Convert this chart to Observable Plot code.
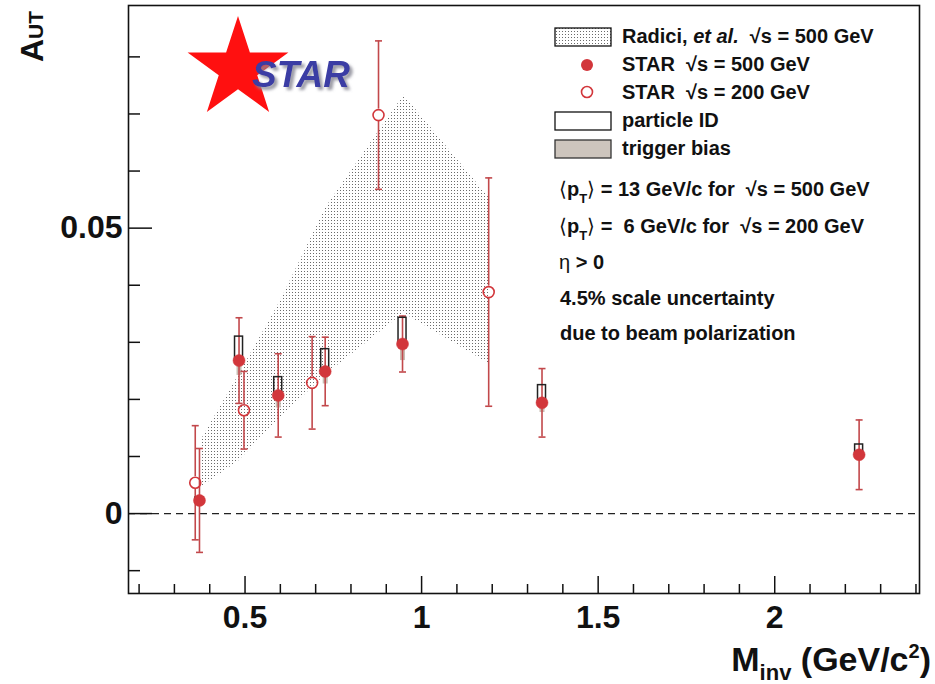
<!DOCTYPE html>
<html>
<head>
<meta charset="utf-8">
<script src="https://cdn.jsdelivr.net/npm/d3@7"></script>
<script src="https://cdn.jsdelivr.net/npm/@observablehq/plot@0.6"></script>
<style>
  body { margin: 0; background: #fff; }
  #chart { width: 935px; height: 684px; }
</style>
</head>
<body>
<div id="chart"></div>
<script>
// Radici et al. theory band, sqrt(s) = 500 GeV
const theoryM  = [0.375, 0.48, 0.60, 0.73, 0.95, 1.19];
const theoryLo = [0.0046, 0.0091, 0.0167, 0.0244, 0.0351, 0.0263];
const theoryHi = [0.0128, 0.0240, 0.0372, 0.0537, 0.0733, 0.0554];

// STAR sqrt(s) = 500 GeV: A_UT, statistical error, particle-ID and trigger-bias systematics
const m500    = [0.371, 0.483, 0.594, 0.727, 0.946, 1.341, 2.239];
const a500    = [0.0023, 0.0268, 0.0207, 0.0249, 0.0297, 0.0194, 0.0103];
const err500  = [0.0091, 0.0075, 0.0073, 0.0060, 0.0049, 0.0060, 0.0061];
const pid500  = [0.0005, 0.0042, 0.0032, 0.0039, 0.0046, 0.0031, 0.0018];
const trig500 = [0.0003, 0.0026, 0.0022, 0.0022, 0.0029, 0.0017, 0.0006];

// STAR sqrt(s) = 200 GeV
const m200   = [0.359, 0.497, 0.690, 0.878, 1.190];
const a200   = [0.0054, 0.0181, 0.0229, 0.0698, 0.0388];
const err200 = [0.0100, 0.0068, 0.0081, 0.0130, 0.0200];

// axis ticks
const xMajor = [0.5, 1, 1.5, 2];
const xMinor = [0.2, 0.3, 0.4, 0.6, 0.7, 0.8, 0.9, 1.1, 1.2, 1.3, 1.4, 1.6, 1.7, 1.8, 1.9, 2.1, 2.2, 2.3, 2.4];
const yMajor = [0, 0.05];
const yMinor = [-0.01, 0.01, 0.02, 0.03, 0.04, 0.06, 0.07, 0.08];

const theory = theoryM.map((m, i) => ({m, lo: theoryLo[i], hi: theoryHi[i]}));
const s500 = m500.map((m, i) => ({m, a: a500[i], e: err500[i], pid: pid500[i], trig: trig500[i]}));
const s200 = m200.map((m, i) => ({m, a: a200[i], e: err200[i]}));
const caps500 = s500.flatMap(d => [{m: d.m, y: d.a + d.e}, {m: d.m, y: d.a - d.e}]);
const caps200 = s200.flatMap(d => [{m: d.m, y: d.a + d.e}, {m: d.m, y: d.a - d.e}]);

const W = 935, H = 684, mL = 128, mR = 16, mT = 5, mB = 91;
const fw = W - mL - mR, fh = H - mT - mB;
const FONT = "'Liberation Sans', Arial, Helvetica, sans-serif";
const red = "#d2363b", barRed = "#c2484b", trigGrey = "#c8bdb3";

// short horizontal cap at the end of an error bar
const capSymbol = {draw(ctx, size) { const r = Math.sqrt(size / Math.PI); ctx.moveTo(-r, 0); ctx.lineTo(r, 0); }};

const errorBars = (data, gap) => [
  Plot.ruleX(data, {x: "m", y1: d => d.a + d.e, y2: "a", insetBottom: gap, stroke: barRed, strokeWidth: 1.6}),
  Plot.ruleX(data, {x: "m", y1: "a", y2: d => d.a - d.e, insetTop: gap, stroke: barRed, strokeWidth: 1.6})
];

const plot = Plot.plot({
  width: W, height: H,
  marginLeft: mL, marginRight: mR, marginTop: mT, marginBottom: mB,
  x: {domain: [0.17, 2.41]},
  y: {domain: [-0.014, 0.089]},
  style: {fontFamily: FONT, fontWeight: "bold", background: "white", color: "#111"},
  marks: [
    Plot.areaY(theory, {x: "m", y1: "lo", y2: "hi", fill: "url(#stipple)"}),
    Plot.ruleY([0], {stroke: "#222", strokeWidth: 1.3, strokeDasharray: "7,5"}),
    // trigger bias (below the point)
    Plot.ruleX(s500, {x: "m", y1: "a", y2: d => d.a - d.trig, stroke: trigGrey, strokeWidth: 5}),
    ...errorBars(s500, 0),
    ...errorBars(s200, 6),
    Plot.dot(caps500, {x: "m", y: "y", symbol: capSymbol, r: 3.5, fill: "none", stroke: barRed, strokeWidth: 1.6}),
    Plot.dot(caps200, {x: "m", y: "y", symbol: capSymbol, r: 3.5, fill: "none", stroke: barRed, strokeWidth: 1.6}),
    // particle-ID systematic (above the point)
    Plot.rect(s500, {x1: "m", x2: "m", y1: "a", y2: d => d.a + d.pid, insetLeft: -4, insetRight: -4,
                     fill: "none", stroke: "#222", strokeWidth: 1.5}),
    Plot.dot(s500, {x: "m", y: "a", r: 6, fill: red, stroke: red, strokeWidth: 0.5}),
    Plot.dot(s200, {x: "m", y: "a", r: 5.5, fill: "none", stroke: red, strokeWidth: 1.6}),
    Plot.frame({stroke: "#111", strokeWidth: 1.6}),
    Plot.tickY(yMajor, {y: d => d, insetRight: fw - 24, stroke: "#111", strokeWidth: 1.5}),
    Plot.tickY(yMinor, {y: d => d, insetRight: fw - 12, stroke: "#111", strokeWidth: 1.5}),
    Plot.tickX(xMajor, {x: d => d, insetTop: fh - 17, stroke: "#111", strokeWidth: 1.5}),
    Plot.tickX(xMinor, {x: d => d, insetTop: fh - 9, stroke: "#111", strokeWidth: 1.5}),
    Plot.axisY(yMajor, {tickSize: 0, tickPadding: 6, fontSize: 32, fontWeight: "bold", label: null,
                        tickFormat: d => d === 0 ? "0" : "0.05"}),
    Plot.axisX(xMajor, {tickSize: 0, tickPadding: 12, fontSize: 32, fontWeight: "bold", label: null,
                        tickFormat: d => String(d)})
  ]
});

document.getElementById("chart").appendChild(plot);

const svg = d3.select(plot);

const defs = svg.insert("defs", ":first-child");
// stipple fill shared by the band and its legend swatch
const pat = defs.append("pattern")
  .attr("id", "stipple").attr("patternUnits", "userSpaceOnUse")
  .attr("width", 3).attr("height", 3);
pat.append("rect").attr("x", 1).attr("y", 1).attr("width", 1).attr("height", 1).attr("fill", "#6a6a6a");
// soft shadow under the logo lettering
const shadow = defs.append("filter").attr("id", "logoShadow").attr("x", "-10%").attr("y", "-20%")
  .attr("width", "130%").attr("height", "150%");
shadow.append("feDropShadow").attr("dx", 3).attr("dy", 3).attr("stdDeviation", 1.5)
  .attr("flood-color", "#8a8a96").attr("flood-opacity", 0.85);

const txt = svg.append("g").attr("font-family", FONT).attr("font-weight", "bold")
  .attr("fill", "#111").attr("text-anchor", "start");

// axis titles
const yt = txt.append("text").attr("transform", "translate(43,62) rotate(-90)").attr("font-size", 32);
yt.append("tspan").text("A");
yt.append("tspan").attr("font-size", 21).text("UT");

const xt = txt.append("text").attr("x", 931).attr("y", 671).attr("text-anchor", "end").attr("font-size", 34);
xt.append("tspan").text("M");
xt.append("tspan").attr("font-size", 22).attr("dy", 9).text("inv");
xt.append("tspan").attr("dy", -9).text(" (GeV/c");
xt.append("tspan").attr("font-size", 20).attr("dy", -13).text("2");
xt.append("tspan").attr("dy", 13).text(")");

// legend
const lg = txt.append("g").attr("font-size", 20);
lg.append("rect").attr("x", 555).attr("y", 28).attr("width", 56).attr("height", 18)
  .attr("fill", "url(#stipple)").attr("stroke", "#111").attr("stroke-width", 1.3);
const l1 = lg.append("text").attr("x", 622).attr("y", 43).attr("xml:space", "preserve");
l1.append("tspan").text("Radici, ");
l1.append("tspan").attr("font-style", "italic").text("et al.");
l1.append("tspan").text("  \u221As = 500 GeV");
lg.append("circle").attr("cx", 587).attr("cy", 65).attr("r", 6).attr("fill", red);
lg.append("text").attr("x", 622).attr("y", 71).attr("xml:space", "preserve").text("STAR  \u221As = 500 GeV");
lg.append("circle").attr("cx", 587).attr("cy", 92).attr("r", 5.5).attr("fill", "none").attr("stroke", red).attr("stroke-width", 1.6);
lg.append("text").attr("x", 622).attr("y", 99).attr("xml:space", "preserve").text("STAR  \u221As = 200 GeV");
lg.append("rect").attr("x", 555).attr("y", 112).attr("width", 56).attr("height", 18)
  .attr("fill", "white").attr("stroke", "#111").attr("stroke-width", 1.3);
lg.append("text").attr("x", 622).attr("y", 127).text("particle ID");
lg.append("rect").attr("x", 555).attr("y", 140).attr("width", 56).attr("height", 18)
  .attr("fill", "#cdc5bd").attr("stroke", "#333").attr("stroke-width", 1.3);
lg.append("text").attr("x", 622).attr("y", 155).text("trigger bias");

// kinematic notes
const notes = txt.append("g").attr("font-size", 20);
[["13", 196, "500"], [" 6", 233, "200"]].forEach(([pt, y, rs]) => {
  const t = notes.append("text").attr("x", 559).attr("y", y).attr("xml:space", "preserve");
  t.append("tspan").attr("font-weight", "normal").text("\u27E8");
  t.append("tspan").text("p");
  t.append("tspan").attr("font-size", 13).attr("dy", 7).text("T");
  t.append("tspan").attr("dy", -7).attr("font-weight", "normal").text("\u27E9");
  t.append("tspan").text(` = ${pt} GeV/c for  \u221As = ${rs} GeV`);
});
const eta = notes.append("text").attr("x", 559).attr("y", 269);
eta.append("tspan").attr("font-weight", "normal").text("\u03B7");
eta.append("tspan").text(" > 0");
notes.append("text").attr("x", 560).attr("y", 305).text("4.5% scale uncertainty");
notes.append("text").attr("x", 560).attr("y", 340).text("due to beam polarization");

// STAR logo
const cx = 238, cy = 69, R = 53, r = R * 0.382;
const starPts = d3.range(10).map(k => {
  const ang = -Math.PI / 2 + k * Math.PI / 5, rad = k % 2 ? r : R;
  return [cx + rad * Math.cos(ang), cy + rad * Math.sin(ang)];
});
svg.append("polygon").attr("points", starPts.map(p => p.join(",")).join(" ")).attr("fill", "#ff1010");
svg.append("text").attr("x", 252).attr("y", 87).attr("text-anchor", "start")
  .attr("font-family", FONT).attr("font-weight", "bold").attr("font-style", "italic")
  .attr("font-size", 37).attr("fill", "#3a3ca4").attr("filter", "url(#logoShadow)").text("STAR");
</script>
</body>
</html>
